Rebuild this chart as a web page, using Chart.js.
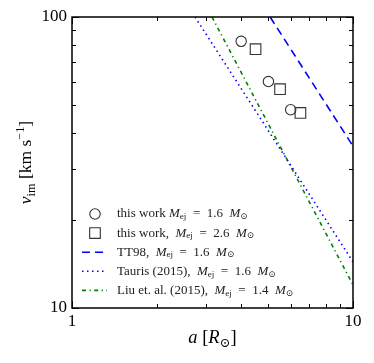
<!DOCTYPE html>
<html>
<head>
<meta charset="utf-8">
<script src="https://cdn.jsdelivr.net/npm/chart.js@4.4.1/dist/chart.umd.min.js"></script>
<style>
  html, body { margin: 0; padding: 0; background: #fff; }
  #wrap { width: 374px; height: 363px; }
</style>
</head>
<body>
<div id="wrap"><canvas id="chart" width="374" height="363"></canvas></div>
<script>
// Separation a [R_sun] and impact velocity v_im [km/s]
const workA16 = [4.0, 5.0, 6.0];
const workV16 = [82.5, 60, 48];
const workA26 = [4.5, 5.5, 6.5];
const workV26 = [77.5, 56.5, 46.8];

// literature curves (end points)
const tt98A = [5.07, 10];
const tt98V = [100, 36];
const taurisA = [2.74, 10];
const taurisV = [100, 14.4];
const liuA = [3.15, 10];
const liuV = [100, 12];

const xTicks = [1, 2, 3, 4, 5, 6, 7, 8, 9, 10];
const yTicks = [10, 20, 30, 40, 50, 60, 70, 80, 90, 100];
const xLabels = { 1: '1', 10: '10' };
const yLabels = { 10: '10', 100: '100' };

const SP = '\u2002';
const labels = [
  'this work *M*_{ej}' + SP + '=' + SP + '1.6' + SP + '*M*_{⊙}',
  'this work,' + SP + '*M*_{ej}' + SP + '=' + SP + '2.6' + SP + '*M*_{⊙}',
  'TT98,' + SP + '*M*_{ej}' + SP + '=' + SP + '1.6' + SP + '*M*_{⊙}',
  'Tauris (2015),' + SP + '*M*_{ej}' + SP + '=' + SP + '1.6' + SP + '*M*_{⊙}',
  'Liu et. al. (2015),' + SP + '*M*_{ej}' + SP + '=' + SP + '1.4' + SP + '*M*_{⊙}',
];
const xTitle = '*a* [*R*_{⊙}]';
const yTitle = '*v*_{im} [km s^{−1}]';

const FONT = '"Liberation Serif", "DejaVu Serif", serif';

const pts = (xs, ys) => xs.map((x, i) => ({ x: x, y: ys[i] }));

// draw text with *italic*, _{sub} and ^{sup} pieces; returns width
function drawRich(ctx, str, x, y, size, measureOnly) {
  const parts = str.split(/(\*[^*]+\*|_\{[^}]*\}|\^\{[^}]*\})/).filter(Boolean);
  let cx = x;
  parts.forEach((p) => {
    let t = p, fs = size, dy = 0, style = '';
    if (p[0] === '*') { t = p.slice(1, -1); style = 'italic '; }
    else if (p.startsWith('_{')) { t = p.slice(2, -1); fs = size * 0.7; dy = size * 0.22; }
    else if (p.startsWith('^{')) { t = p.slice(2, -1); fs = size * 0.7; dy = -size * 0.4; }
    ctx.font = style + fs + 'px ' + FONT;
    if (!measureOnly) ctx.fillText(t, cx, y + dy);
    cx += ctx.measureText(t).width;
  });
  return cx - x;
}

const framePlugin = {
  id: 'frame',
  afterDraw(chart) {
    const ctx = chart.ctx;
    const a = chart.chartArea;
    const xs = chart.scales.x, ys = chart.scales.y;
    ctx.save();
    ctx.strokeStyle = '#000';
    ctx.lineWidth = 1;
    xTicks.forEach((v) => {
      const px = Math.round(xs.getPixelForValue(v)) + 0.5;
      const len = xLabels[v] ? 7 : 4;
      ctx.beginPath();
      ctx.moveTo(px, a.bottom); ctx.lineTo(px, a.bottom - len);
      ctx.moveTo(px, a.top); ctx.lineTo(px, a.top + len);
      ctx.stroke();
    });
    yTicks.forEach((v) => {
      const py = Math.round(ys.getPixelForValue(v)) + 0.5;
      const len = yLabels[v] ? 7 : 4;
      ctx.beginPath();
      ctx.moveTo(a.left, py); ctx.lineTo(a.left + len, py);
      ctx.moveTo(a.right, py); ctx.lineTo(a.right - len, py);
      ctx.stroke();
    });
    ctx.lineWidth = 1.5;
    ctx.strokeRect(a.left, a.top, a.right - a.left, a.bottom - a.top);

    // axis titles
    ctx.fillStyle = '#000';
    ctx.textBaseline = 'alphabetic';
    const tw = drawRich(ctx, xTitle, 0, 0, 18.5, true);
    drawRich(ctx, xTitle, (a.left + a.right) / 2 - tw / 2, 343, 18.5);
    ctx.translate(31, (a.top + a.bottom) / 2);
    ctx.rotate(-Math.PI / 2);
    const yw = drawRich(ctx, yTitle, 0, 0, 17.5, true);
    drawRich(ctx, yTitle, -yw / 2, 0, 17.5);
    ctx.restore();
  },
  afterDatasetsDraw(chart) {
    const ctx = chart.ctx;
    ctx.save();
    chart.data.datasets.forEach((ds, i) => {
      const y = 214 + i * 19.1;
      ctx.strokeStyle = ds.borderColor;
      ctx.lineWidth = ds.borderWidth;
      if (ds.showLine === false) {
        ctx.beginPath();
        if (ds.pointStyle === 'circle') {
          ctx.arc(95, y, ds.pointRadius, 0, Math.PI * 2);
        } else {
          const s = ds.pointRadius * Math.SQRT1_2;
          ctx.rect(95 - s, y - s, 2 * s, 2 * s);
        }
        ctx.stroke();
      } else {
        ctx.setLineDash(ds.borderDash || []);
        ctx.beginPath();
        ctx.moveTo(82, y); ctx.lineTo(107, y);
        ctx.stroke();
        ctx.setLineDash([]);
      }
      ctx.fillStyle = '#222';
      ctx.textBaseline = 'middle';
      drawRich(ctx, labels[i], 117, y, 13);
    });
    ctx.restore();
  },
};

new Chart(document.getElementById('chart'), {
  type: 'scatter',
  data: {
    datasets: [
      {
        data: pts(workA16, workV16), showLine: false, pointStyle: 'circle', pointRadius: 5.2,
        borderColor: '#333', backgroundColor: 'rgba(0,0,0,0)', borderWidth: 1.1, pointBorderWidth: 1.1,
      },
      {
        data: pts(workA26, workV26), showLine: false, pointStyle: 'rect', pointRadius: 7.5,
        borderColor: '#333', backgroundColor: 'rgba(0,0,0,0)', borderWidth: 1.1, pointBorderWidth: 1.1,
      },
      {
        data: pts(tt98A, tt98V), showLine: true, pointRadius: 0, borderColor: '#0000ff',
        borderWidth: 1.6, borderDash: [8, 5],
      },
      {
        data: pts(taurisA, taurisV), showLine: true, pointRadius: 0, borderColor: '#0000ff',
        borderWidth: 1.6, borderDash: [1.5, 3.5],
      },
      {
        data: pts(liuA, liuV), showLine: true, pointRadius: 0, borderColor: '#008000',
        borderWidth: 1.6, borderDash: [4, 3.5, 1.2, 3.5],
      },
    ],
  },
  options: {
    responsive: false,
    animation: false,
    devicePixelRatio: 1,
    layout: { padding: { top: 17, right: 21, left: 0, bottom: 0 } },
    plugins: { legend: { display: false }, tooltip: { enabled: false } },
    scales: {
      x: {
        type: 'logarithmic', min: 1, max: 10,
        afterBuildTicks: (s) => { s.ticks = xTicks.map((v) => ({ value: v })); },
        afterFit: (s) => { s.height = 55; },
        grid: { display: false, drawTicks: false },
        border: { display: false },
        ticks: {
          autoSkip: false, maxRotation: 0, padding: 3, color: '#000',
          font: { family: FONT, size: 17 },
          callback: (v) => xLabels[v] || '',
        },
      },
      y: {
        type: 'logarithmic', min: 10, max: 100,
        afterBuildTicks: (s) => { s.ticks = yTicks.map((v) => ({ value: v })); },
        afterFit: (s) => { s.width = 72; },
        grid: { display: false, drawTicks: false },
        border: { display: false },
        ticks: {
          autoSkip: false, padding: 5, color: '#000',
          font: { family: FONT, size: 17 },
          callback: (v) => yLabels[v] || '',
        },
      },
    },
  },
  plugins: [framePlugin],
});
</script>
</body>
</html>
